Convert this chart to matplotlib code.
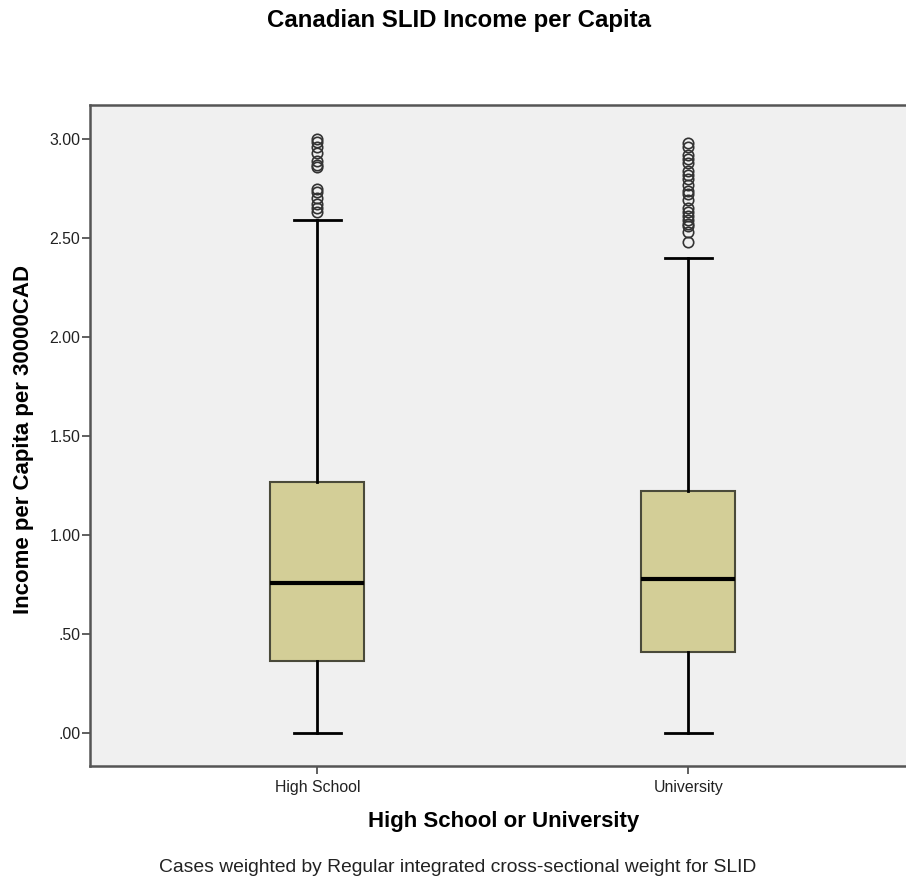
import matplotlib
matplotlib.use("Agg")
import matplotlib.pyplot as plt

plt.rcParams["font.family"] = ["Liberation Sans", "DejaVu Sans"]

# five-number summaries per group (income per capita / 30000 CAD)
groups = ["High School", "University"]
whis_lo = [0.00, 0.00]
q1 = [0.365, 0.41]
medians = [0.755, 0.78]
q3 = [1.268, 1.222]
whis_hi = [2.59, 2.40]

# extreme cases beyond the upper whisker
hs_outliers = [3.00, 2.985, 2.96, 2.93, 2.89, 2.87, 2.86,
               2.75, 2.73, 2.70, 2.67, 2.65, 2.63]
uni_outliers = [2.98, 2.96, 2.92, 2.90, 2.88, 2.84, 2.82, 2.80, 2.77,
                2.74, 2.72, 2.69, 2.65, 2.63, 2.61, 2.59, 2.57, 2.56,
                2.53, 2.48]
outliers = [hs_outliers, uni_outliers]

y_ticks = [0.0, 0.5, 1.0, 1.5, 2.0, 2.5, 3.0]
y_ticklabels = [".00", ".50", "1.00", "1.50", "2.00", "2.50", "3.00"]

stats = []
for i, name in enumerate(groups):
    stats.append({"label": name, "whislo": whis_lo[i], "q1": q1[i],
                  "med": medians[i], "q3": q3[i], "whishi": whis_hi[i],
                  "fliers": outliers[i]})

fig = plt.figure(figsize=(9.06, 8.82), dpi=100)
ax = fig.add_axes([90 / 906, 116 / 882, 818 / 906, 661 / 882])
ax.set_facecolor("#f0f0f0")

ax.bxp(stats, positions=[1, 2], widths=0.253, capwidths=0.126,
       patch_artist=True,
       boxprops=dict(facecolor="#d3ce97", edgecolor="#4a4a3a", linewidth=1.5),
       medianprops=dict(color="black", linewidth=3),
       whiskerprops=dict(color="black", linewidth=2),
       capprops=dict(color="black", linewidth=2),
       flierprops=dict(marker="o", markersize=7.5, markerfacecolor="none",
                       markeredgecolor="#333333", markeredgewidth=1.2))

ax.set_xlim(0.387, 2.592)
ax.set_ylim(-0.167, 3.172)
ax.set_yticks(y_ticks)
ax.set_yticklabels(y_ticklabels)
ax.set_xticks([1, 2])
ax.set_xticklabels(groups)
ax.tick_params(axis="both", direction="out", length=6, width=1.2,
               color="#444444", labelsize=11.4, labelcolor="#222222", pad=1)
ax.tick_params(axis="x", pad=4)

for side in ("left", "bottom", "top", "right"):
    ax.spines[side].set_color("#555555")
    ax.spines[side].set_linewidth(1.8)

fig.text(459 / 906, 1 - 20 / 882, "Canadian SLID Income per Capita",
         ha="center", va="center", fontsize=17.3, fontweight="bold")
fig.text(504 / 906, 1 - 822 / 882, "High School or University",
         ha="center", va="center", fontsize=16, fontweight="bold")
fig.text(24 / 906, 1 - 439 / 882, "Income per Capita per 30000CAD",
         ha="center", va="center", rotation=90, fontsize=16, fontweight="bold")
fig.text(458 / 906, 1 - 868 / 882,
         "Cases weighted by Regular integrated cross-sectional weight for SLID",
         ha="center", va="center", fontsize=13.9, color="#222222")

fig.savefig("out.png", dpi=100)
